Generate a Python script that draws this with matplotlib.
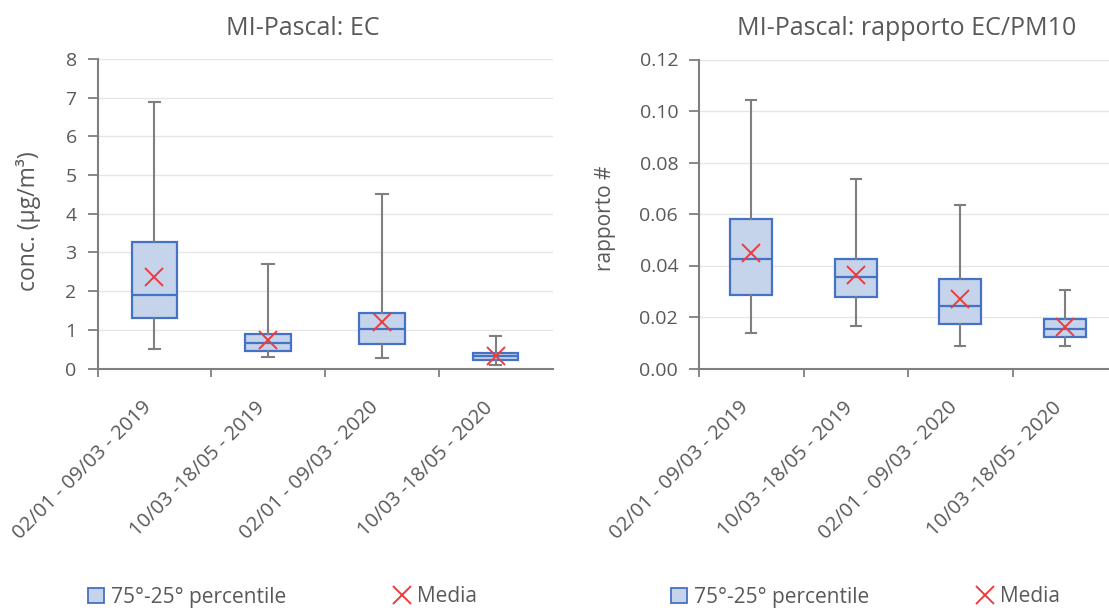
import matplotlib
matplotlib.use("Agg")
import matplotlib.pyplot as plt
from matplotlib.patches import Patch
from matplotlib.lines import Line2D
from matplotlib.transforms import ScaledTranslation, blended_transform_factory

plt.rcParams['font.family'] = ['Open Sans', 'DejaVu Sans']

categories = ["02/01 - 09/03 - 2019", "10/03 -18/05 - 2019",
              "02/01 - 09/03 - 2020", "10/03 -18/05 - 2020"]

# EC concentration (µg/m³)
ec_whislo = [0.50, 0.31, 0.26, 0.10]
ec_q1 = [1.30, 0.45, 0.63, 0.22]
ec_med = [1.90, 0.65, 1.03, 0.32]
ec_q3 = [3.26, 0.88, 1.43, 0.40]
ec_whishi = [6.90, 2.70, 4.52, 0.83]
ec_mean = [2.37, 0.73, 1.19, 0.32]

# EC/PM10 ratio
r_whislo = [0.0138, 0.0166, 0.0088, 0.0088]
r_q1 = [0.0284, 0.0277, 0.0172, 0.0124]
r_med = [0.0425, 0.0355, 0.0242, 0.0154]
r_q3 = [0.0579, 0.0425, 0.0348, 0.0194]
r_whishi = [0.1042, 0.0734, 0.0635, 0.0305]
r_mean = [0.0447, 0.0363, 0.0269, 0.0162]

ec_ticks = [0, 1, 2, 3, 4, 5, 6, 7, 8]
r_ticks = [0.00, 0.02, 0.04, 0.06, 0.08, 0.10, 0.12]

BOX_FACE = "#c5d3eb"
BOX_EDGE = "#4472c4"
WHISK = "#7f7f7f"
MEAN_C = "#ee3b3b"
TXT = "#595959"
SPINE = "#7f7f7f"
GRID = "#e6e6e6"

W, H = 1109, 610
fig = plt.figure(figsize=(W / 100, H / 100), dpi=100)


def make_ax(left, right, top, bottom):
    return fig.add_axes([left / W, 1 - bottom / H, (right - left) / W, (bottom - top) / H])


def draw(ax, whislo, q1, med, q3, whishi, mean, ticks, fmt, ylabel, ylab_xy, ylab_size):
    stats = []
    for i in range(len(categories)):
        stats.append(dict(whislo=whislo[i], q1=q1[i], med=med[i], q3=q3[i],
                          whishi=whishi[i], mean=mean[i], fliers=[]))
    pos = list(range(len(categories)))
    ax.bxp(stats, positions=pos, widths=0.4, patch_artist=True, showmeans=True,
           showfliers=False,
           boxprops=dict(facecolor=BOX_FACE, edgecolor=BOX_EDGE, linewidth=1.6),
           medianprops=dict(color=BOX_EDGE, linewidth=1.6),
           whiskerprops=dict(color=WHISK, linewidth=1.5),
           capprops=dict(color=WHISK, linewidth=1.5),
           meanprops=dict(marker='x', markeredgecolor=MEAN_C, markersize=13,
                          markeredgewidth=1.4, linestyle='none'),
           capwidths=0.1, zorder=3)
    ax.set_xlim(-0.5, len(categories) - 0.5)
    ax.set_ylim(ticks[0], ticks[-1])
    ax.set_yticks(ticks)
    ax.set_yticklabels([fmt.format(t) for t in ticks], color=TXT, fontsize=14)
    ax.yaxis.grid(True, color=GRID, linewidth=1)
    ax.set_axisbelow(True)
    # category boundary ticks
    ax.set_xticks([i - 0.5 for i in range(len(categories))])
    ax.set_xticklabels([])
    # category labels
    tr = blended_transform_factory(ax.transData, ax.transAxes) + \
        ScaledTranslation(-13 / 100, -29 / 100, fig.dpi_scale_trans)
    for i, c in enumerate(categories):
        ax.text(pos[i], 0, c, transform=tr, rotation=45, ha='right', va='top',
                rotation_mode='anchor', color=TXT, fontsize=14.5)
    ax.tick_params(axis='x', which='major', length=6, color=SPINE, width=1.3)
    ax.tick_params(axis='y', length=7, color=SPINE, width=1.3, pad=8)
    for s in ['top', 'right']:
        ax.spines[s].set_visible(False)
    for s in ['left', 'bottom']:
        ax.spines[s].set_color(SPINE)
        ax.spines[s].set_linewidth(1.5)
    ax.set_ylabel(ylabel, color=TXT, fontsize=ylab_size)
    ax.yaxis.set_label_coords(ylab_xy[0] / W, 1 - ylab_xy[1] / H,
                              transform=fig.transFigure)


ax1 = make_ax(97.5, 552.5, 59, 368.5)
draw(ax1, ec_whislo, ec_q1, ec_med, ec_q3, ec_whishi, ec_mean, ec_ticks, "{:g}",
     "conc. (µg/m³)", (41, 221), 16.5)
fig.text(302.5 / W, 1 - 35 / H, "MI-Pascal: EC", ha='center', va='baseline',
         color=TXT, fontsize=18)

ax2 = make_ax(699, 1117, 59.5, 368.5)
draw(ax2, r_whislo, r_q1, r_med, r_q3, r_whishi, r_mean, r_ticks, "{:.2f}",
     "rapporto #", (616, 218), 15)
fig.text(906.5 / W, 1 - 35 / H, "MI-Pascal: rapporto EC/PM10", ha='center',
         va='baseline', color=TXT, fontsize=18)

handles = [Patch(facecolor=BOX_FACE, edgecolor=BOX_EDGE, linewidth=1.3),
           Line2D([], [], marker='x', color=MEAN_C, linestyle='none', markersize=13,
                  markeredgewidth=1.4)]
labels = ["75°-25° percentile", "Media"]
for x0 in (88 / W, 671 / W):
    fig.legend(handles, labels, loc='center left', bbox_to_anchor=(x0, 1 - 597 / H),
               ncol=2, frameon=False, fontsize=15, labelcolor=TXT,
               columnspacing=5.2, handlelength=0.75, handletextpad=0.35,
               handleheight=0.75, borderpad=0, borderaxespad=0)

fig.savefig("out.png", dpi=100)
